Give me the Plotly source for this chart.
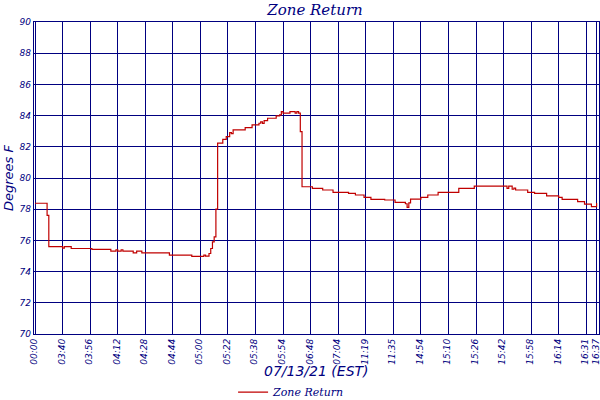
import plotly.graph_objects as go

# ── Data (sample index where each step begins, temperature in °F) ──
sample_idx = [0, 7, 8, 16, 17, 21, 33, 44, 47, 48, 50, 51, 57, 59, 62, 78, 91,
              98, 99, 101, 102, 103, 104, 105, 106, 109, 111, 113, 114, 115,
              122, 126, 130, 131, 132, 133, 135, 140, 142, 143, 144, 148, 151,
              152, 153, 154, 155, 161, 167, 173, 182, 186, 191, 195, 203, 209,
              215, 216, 217, 218, 224, 228, 234, 246, 255, 274, 275, 277, 278,
              279, 286, 290, 297, 304, 306, 315, 319, 323, 326]
temp_f = [78.38, 77.6, 75.6, 75.5, 75.6, 75.48, 75.42, 75.31, 75.4, 75.31,
          75.4, 75.31, 75.2, 75.31, 75.2, 75.05, 74.97, 75.05, 74.99, 75.16,
          75.48, 75.9, 76.23, 78.0, 82.23, 82.48, 82.65, 82.91, 82.85, 83.08,
          83.23, 83.4, 83.51, 83.6, 83.5, 83.68, 83.83, 83.98, 84.05, 84.26,
          84.16, 84.26, 84.16, 84.26, 84.16, 82.97, 79.44, 79.33, 79.23, 79.08,
          79.02, 78.91, 78.76, 78.63, 78.59, 78.44, 78.35, 78.12, 78.4, 78.65,
          78.76, 78.91, 79.08, 79.33, 79.48, 79.33, 79.48, 79.28, 79.35, 79.23,
          79.08, 79.02, 78.86, 78.76, 78.63, 78.48, 78.33, 78.16, 78.4]

tick_idx = [0, 16, 32, 48, 64, 80, 96, 112, 128, 144, 160, 176, 192, 208,
            224, 240, 256, 272, 288, 304, 320, 326]
tick_labels = ["00:00", "03:40", "03:56", "04:12", "04:28", "04:44", "05:00",
               "05:22", "05:38", "05:54", "06:48", "07:04", "11:19", "11:35",
               "14:54", "15:10", "15:26", "15:42", "15:58", "16:14", "16:31",
               "16:37"]

NAVY = "#000080"
RED = "#C00000"

fig = go.Figure()
fig.add_trace(go.Scatter(
    x=sample_idx, y=temp_f,
    mode="lines", line=dict(color=RED, width=1.2, shape="hv"),
    name="Zone Return",
))

fig.update_layout(
    width=600, height=408,
    paper_bgcolor="white", plot_bgcolor="white",
    margin=dict(l=34, r=1, t=22, b=68),
    title=dict(text="Zone Return", x=0.525, xanchor="center", y=0.977, yanchor="middle",
               font=dict(family="DejaVu Serif", size=15, color=NAVY, style="italic")),
    showlegend=True,
    legend=dict(orientation="h", x=0.455, xanchor="center", y=-0.186, yanchor="middle",
                font=dict(family="DejaVu Serif", size=11, color=NAVY, style="italic"),
                bgcolor="rgba(0,0,0,0)", itemwidth=30),
    annotations=[
        dict(text="07/13/21 (EST)", xref="paper", yref="paper", x=0.5, y=-0.118,
             xanchor="center", yanchor="middle", showarrow=False,
             font=dict(family="DejaVu Sans", size=14, color=NAVY, style="italic")),
        dict(text="Degrees F", xref="paper", yref="paper", x=-0.046, y=0.5,
             xanchor="center", yanchor="middle", showarrow=False, textangle=-90,
             font=dict(family="DejaVu Sans", size=13, color=NAVY, style="italic")),
    ],
)

fig.update_xaxes(
    range=[-0.6, 327.4], automargin=False,
    tickmode="array", tickvals=tick_idx, ticktext=tick_labels,
    tickangle=-90, ticklabeloverflow="allow", ticklabelshift=-1,
    tickfont=dict(family="DejaVu Sans", size=9, color=NAVY, style="italic"),
    showgrid=True, gridcolor=NAVY, gridwidth=1.2,
    showline=True, linecolor=NAVY, linewidth=1.3, mirror=True,
    zeroline=False, ticks="",
)
fig.update_yaxes(
    range=[70, 90], dtick=2, automargin=False,
    tickfont=dict(family="DejaVu Sans", size=9, color=NAVY, style="italic"),
    showgrid=True, gridcolor=NAVY, gridwidth=1.2,
    showline=True, linecolor=NAVY, linewidth=1.3, mirror=True,
    zeroline=False, ticks="",
)

# drop the page body's default 8px margin so the figure sits at (0, 0)
page_fix = (
    "document.documentElement.style.overflow='hidden';"
    "document.body.style.margin='0';"
    "document.body.style.overflow='hidden';"
)
fig.write_html("out.html", post_script=page_fix,
               config={"displayModeBar": False})
